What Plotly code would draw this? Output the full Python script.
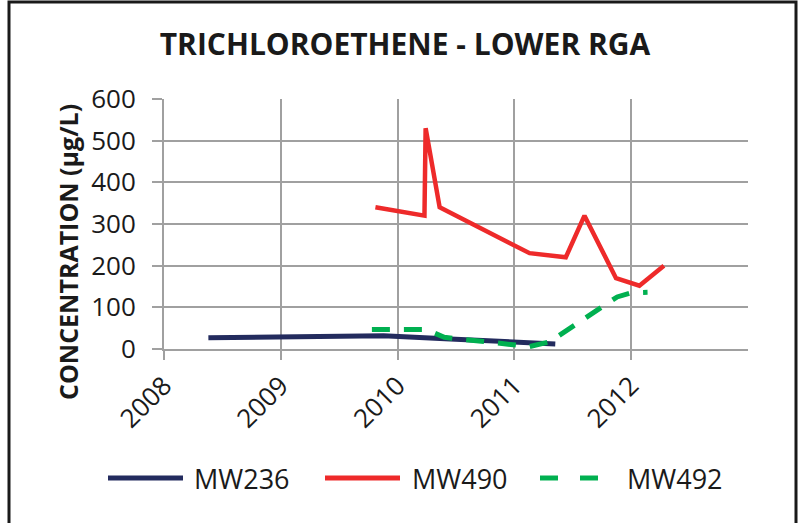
import plotly.graph_objects as go

# ---- data ----
mw236_x = [2008.38, 2009.35, 2009.88, 2010.45, 2010.95, 2011.35]
mw236_y = [27, 32, 32, 24, 17, 12]

mw490_x = [2009.81, 2010.23, 2010.24, 2010.36, 2011.13, 2011.44, 2011.60, 2011.87, 2012.07, 2012.28]
mw490_y = [340, 320, 530, 340, 230, 220, 320, 170, 152, 200]

mw492_x = [2009.78, 2010.24, 2010.40, 2011.13, 2011.30, 2011.88, 2012.00, 2012.14]
mw492_y = [47, 47, 28, 6, 17, 125, 135, 136]

year_ticks = [2008, 2009, 2010, 2011, 2012]
year_labels = ["2008", "2009", "2010", "2011", "2012"]
y_ticks = [0, 100, 200, 300, 400, 500, 600]

series_names = ["MW236", "MW490", "MW492"]
colors = ["#232B5E", "#EE2A2A", "#00B050"]

FONT = "Open Sans"
GRID = "#A0A0A0"

fig = go.Figure()
fig.add_trace(go.Scatter(x=mw236_x, y=mw236_y, mode="lines", name=series_names[0],
                         line=dict(color=colors[0], width=5), showlegend=False))
fig.add_trace(go.Scatter(x=mw490_x, y=mw490_y, mode="lines", name=series_names[1],
                         line=dict(color=colors[1], width=4.5), showlegend=False))
fig.add_trace(go.Scatter(x=mw492_x, y=mw492_y, mode="lines", name=series_names[2],
                         line=dict(color=colors[2], width=5, dash="18px,14px"), showlegend=False))

L, R, T, B = 164, 55, 99, 174
W, H = 803, 523
pw, ph = W - L - R, H - T - B

def px(x):
    return (x - L) / pw

def py(y):
    return (H - B - y) / ph

fig.update_layout(
    width=W, height=H,
    margin=dict(l=L, r=R, t=T, b=B),
    paper_bgcolor="white", plot_bgcolor="white",
    font=dict(family=FONT, color="#1a1a1a"),
    title=dict(text="<b>TRICHLOROETHENE - LOWER RGA</b>", x=405 / W, xanchor="center",
               y=1 - 44 / H, yanchor="middle", yref="container",
               font=dict(size=30, family=FONT, color="#1a1a1a")),
    xaxis=dict(range=[2008, 2013], tickvals=year_ticks, ticktext=year_labels,
               tickangle=-45, tickfont=dict(size=26), showgrid=True, gridcolor=GRID, gridwidth=2,
               ticks="outside", ticklen=9, tickwidth=2, tickcolor=GRID,
               showline=True, linecolor=GRID, linewidth=2, zeroline=False),
    yaxis=dict(range=[0, 600], tickvals=y_ticks, tickfont=dict(size=26), showgrid=True,
               gridcolor=GRID, gridwidth=2, ticks="outside", ticklen=10, tickwidth=2,
               tickcolor=GRID, showline=True, linecolor=GRID, linewidth=2, zeroline=False,
               ticklabelstandoff=11),
    showlegend=False,
)

# y axis title
fig.add_annotation(text="<b>CONCENTRATION (µg/L)</b>", xref="paper", yref="paper",
                   x=px(68), y=py(252), textangle=-90, showarrow=False,
                   xanchor="center", yanchor="middle",
                   font=dict(size=25, family=FONT, color="#1a1a1a"))

# legend drawn below the chart
leg_y = py(478)
leg_items = [
    (108, 183, 192, None),
    (325, 400, 410, None),
    (540, 600, 625, "dash"),
]
for (x0, x1, tx, dash), name, col in zip(leg_items, series_names, colors):
    if dash is None:
        fig.add_shape(type="line", xref="paper", yref="paper", x0=px(x0), x1=px(x1),
                      y0=leg_y, y1=leg_y, line=dict(color=col, width=5))
    else:
        for a, b in [(540, 558), (580, 598)]:
            fig.add_shape(type="line", xref="paper", yref="paper", x0=px(a), x1=px(b),
                          y0=leg_y, y1=leg_y, line=dict(color=col, width=5))
    fig.add_annotation(text=name, xref="paper", yref="paper", x=px(tx), y=leg_y,
                       xanchor="left", yanchor="middle", showarrow=False,
                       font=dict(size=27, family=FONT, color="#1a1a1a"))

# outer frame
fig.add_shape(type="rect", xref="paper", yref="paper", x0=px(9), x1=px(796),
              y0=py(530), y1=py(2), line=dict(color="#1a1a1a", width=3), layer="below")

fig.write_html("out.html", config={"displayModeBar": False},
               post_script="document.body.style.margin='0';document.body.style.overflow='hidden';")
